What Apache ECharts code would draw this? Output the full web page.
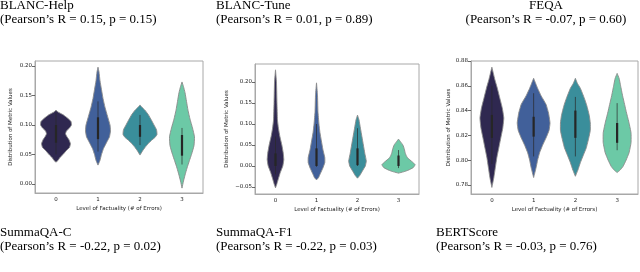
<!DOCTYPE html>
<html>
<head>
<meta charset="utf-8">
<script src="https://cdn.jsdelivr.net/npm/echarts@6/dist/echarts.min.js"></script>
<style>html,body{margin:0;padding:0;background:#fff}#c{width:640px;height:272px}</style>
</head>
<body>
<div id="c"></div>
<script>
// ---- categories / labels ----
const categories = ['0', '1', '2', '3'];
const xAxisTitle = 'Level of Factuality (# of Errors)';
const yAxisTitle = 'Distribution of Metric Values';

const topTitles = [
  ['BLANC-Help', '(Pearson’s R = 0.15, p = 0.15)'],
  ['BLANC-Tune', '(Pearson’s R = 0.01, p = 0.89)'],
  ['FEQA', '(Pearson’s R = -0.07, p = 0.60)']
];
const bottomTitles = [
  ['SummaQA-C', '(Pearson’s R = -0.22, p = 0.02)'],
  ['SummaQA-F1', '(Pearson’s R = -0.22, p = 0.03)'],
  ['BERTScore', '(Pearson’s R = -0.03, p = 0.76)']
];

// ---- y tick values per panel ----
const ticks1 = [0.00, 0.05, 0.10, 0.15, 0.20];
const ticks2 = [-0.05, 0.00, 0.05, 0.10, 0.15, 0.20];
const ticks3 = [0.78, 0.80, 0.82, 0.84, 0.86, 0.88];

// ---- violin profiles: [metric value, density (relative half width)] ----
const help0 = [[0.125,0],[0.122,2],[0.117,7.5],[0.111,12],[0.106,15],[0.1,15.5],[0.095,13.5],[0.09,10.5],[0.085,9.5],[0.08,11],[0.075,13],[0.068,14.5],[0.062,13.5],[0.056,10],[0.05,7],[0.045,4],[0.04,2],[0.037,0]];
const help1 = [[0.198,0],[0.19,1],[0.175,2],[0.16,3.5],[0.145,5],[0.13,7],[0.115,9.5],[0.1,12],[0.09,12.5],[0.08,11.5],[0.07,8.5],[0.06,5.5],[0.05,3.5],[0.04,2],[0.032,0]];
const help2 = [[0.134,0],[0.13,2],[0.125,5],[0.117,8.5],[0.108,11.5],[0.1,14],[0.092,16.5],[0.084,17],[0.079,15],[0.074,11.5],[0.068,8],[0.062,5],[0.056,2.5],[0.049,0]];
const help3 = [[0.173,0],[0.165,1.5],[0.155,3],[0.14,4.5],[0.125,6],[0.11,8],[0.095,10.5],[0.08,12.5],[0.065,12],[0.05,9.5],[0.04,7.5],[0.027,5],[0.015,3],[0.005,1.5],[-0.007,0]];

const tune0 = [[0.229,0],[0.2,1],[0.15,1.5],[0.11,2],[0.09,3],[0.07,4.5],[0.05,6.5],[0.03,8],[0.015,8.5],[0.0,7.5],[-0.015,5],[-0.03,3],[-0.042,1.5],[-0.052,0]];
const tune1 = [[0.198,0],[0.17,1],[0.13,1.5],[0.1,2.5],[0.08,3.5],[0.06,5],[0.04,6.5],[0.02,8.5],[0.008,8.5],[-0.005,6.5],[-0.018,4],[-0.028,2],[-0.033,0]];
const tune2 = [[0.121,0],[0.11,1.5],[0.09,3],[0.07,4.5],[0.05,6],[0.03,7.5],[0.012,9],[0.0,8],[-0.012,5],[-0.022,2.5],[-0.029,0]];
const tune3 = [[0.064,0],[0.058,2],[0.05,4.5],[0.04,6],[0.03,7],[0.02,9],[0.01,14],[0.003,17],[-0.004,15],[-0.01,10],[-0.014,5],[-0.017,0]];

const feqa0 = [[0.875,0],[0.87,1.5],[0.865,3],[0.858,5.5],[0.85,8],[0.842,10.5],[0.834,12],[0.826,11],[0.818,9],[0.81,7],[0.802,5],[0.794,3.5],[0.786,2],[0.778,0]];
const feqa1 = [[0.866,0],[0.862,2],[0.858,4],[0.852,7.5],[0.845,12.5],[0.838,15],[0.83,16.5],[0.824,15.5],[0.818,12.5],[0.812,9],[0.806,6],[0.8,4],[0.794,2.5],[0.786,0]];
const feqa2 = [[0.866,0],[0.862,2],[0.858,5],[0.85,9],[0.844,11.5],[0.836,14],[0.83,15],[0.824,15],[0.818,13.5],[0.81,11],[0.804,8],[0.798,5],[0.792,2.5],[0.787,0]];
const feqa3 = [[0.87,0],[0.866,2],[0.86,3.5],[0.852,5.5],[0.845,7.5],[0.838,9.5],[0.83,12],[0.822,14],[0.814,14],[0.806,12],[0.8,9],[0.795,6],[0.792,3],[0.79,0]];

// ---- inner box stats: [whisker low, q1, median, q3, whisker high] ----
const helpBox = [[0.05,0.07,0.085,0.1,0.12],[0.055,0.076,0.092,0.113,0.14],[0.066,0.08,0.09,0.1,0.117],[0.033,0.048,0.065,0.083,0.095]];
const tuneBox = [[-0.02,0.0,0.015,0.03,0.07],[-0.002,0.0,0.015,0.042,0.1],[0.0,0.002,0.012,0.042,0.09],[-0.005,0.0,0.008,0.025,0.038]];
const feqaBox = [[0.797,0.818,0.826,0.8365,0.86],[0.803,0.819,0.827,0.835,0.854],[0.803,0.818,0.83,0.84,0.851],[0.808,0.814,0.822,0.83,0.846]];

const panels = [
  {profiles: [help0, help1, help2, help3], boxes: helpBox, ticks: ticks1, min: -0.0153, max: 0.2085},
  {profiles: [tune0, tune1, tune2, tune3], boxes: tuneBox, ticks: ticks2, min: -0.0667, max: 0.2429},
  {profiles: [feqa0, feqa1, feqa2, feqa3], boxes: feqaBox, ticks: ticks3, min: 0.7727, max: 0.8800}
];

// ---- styling ----
const colors = ['#2f2850', '#41609a', '#3a8e9b', '#6cc9a6'];
const grids = [
  {left: 35, top: 61, width: 168, height: 132},
  {left: 255, top: 64, width: 164, height: 130},
  {left: 471, top: 61, width: 167, height: 133}
];
const yNameGaps = [21, 25, 19];
const DENSITY_TO_BAND = 1 / 42; // density unit → fraction of category band
const tickFont = {fontFamily: 'DejaVu Sans', fontSize: 5.5, color: '#222'};
const fmt = v => (v < 0 ? '\u2212' : '') + Math.abs(v).toFixed(2);

function makeRender(panel) {
  return function (params, api) {
    const idx = api.value(0);
    const prof = panel.profiles[idx];
    const band = api.size([1, 0])[0];
    const cx = api.coord([idx, prof[0][0]])[0];
    const right = prof.map(p => [cx + p[1] * DENSITY_TO_BAND * band, api.coord([idx, p[0]])[1]]);
    const left = prof.slice().reverse().map(p => [cx - p[1] * DENSITY_TO_BAND * band, api.coord([idx, p[0]])[1]]);
    const b = panel.boxes[idx];
    const yLo = api.coord([idx, b[0]])[1], yQ1 = api.coord([idx, b[1]])[1];
    const yQ3 = api.coord([idx, b[3]])[1], yHi = api.coord([idx, b[4]])[1];
    return {
      type: 'group',
      children: [
        {type: 'polygon', shape: {points: right.concat(left), smooth: 0.12},
         style: {fill: colors[idx], stroke: '#8a8a8a', lineWidth: 0.9}},
        {type: 'line', shape: {x1: cx, y1: yLo, x2: cx, y2: yHi},
         style: {stroke: '#2a2a2a', lineWidth: 0.7}},
        {type: 'rect', shape: {x: cx - 1.1, y: yQ3, width: 2.2, height: yQ1 - yQ3},
         style: {fill: '#262626'}}
      ]
    };
  };
}

const option = {
  animation: false,
  grid: grids.map(g => Object.assign({show: true, borderColor: '#a8a8a8', borderWidth: 1, containLabel: false}, g)),
  xAxis: grids.map((g, i) => ({
    type: 'category', gridIndex: i, data: categories,
    name: xAxisTitle, nameLocation: 'middle', nameGap: 13,
    nameTextStyle: {fontFamily: 'DejaVu Sans', fontSize: 5.5, color: '#222'},
    axisLine: {onZero: false, lineStyle: {color: '#a8a8a8', width: 1}},
    axisTick: {alignWithLabel: true, length: 3, lineStyle: {color: '#444', width: 0.8}},
    axisLabel: Object.assign({margin: 4}, tickFont),
    splitLine: {show: false}
  })),
  yAxis: panels.map((p, i) => ({
    type: 'value', gridIndex: i, min: p.min, max: p.max,
    name: yAxisTitle, nameLocation: 'middle', nameRotate: 90, nameGap: yNameGaps[i],
    nameTextStyle: {fontFamily: 'DejaVu Sans', fontSize: 5.5, color: '#222'},
    axisLine: {show: true, onZero: false, lineStyle: {color: '#a8a8a8', width: 1}},
    axisTick: {show: true, length: 3, customValues: p.ticks, lineStyle: {color: '#444', width: 0.8}},
    axisLabel: Object.assign({margin: 3, customValues: p.ticks, formatter: fmt, showMinLabel: true, showMaxLabel: true}, tickFont),
    splitLine: {show: false}
  })),
  series: panels.map((p, i) => ({
    type: 'custom', xAxisIndex: i, yAxisIndex: i,
    data: categories.map((c, k) => [k]),
    renderItem: makeRender(p),
    clip: false
  })),
  graphic: [
    {type: 'text', left: 0, top: -2, style: {text: topTitles[0][0] + '\n' + topTitles[0][1], font: '13px "Liberation Serif"', fill: '#000', lineHeight: 14.5}},
    {type: 'text', left: 216, top: -2, style: {text: topTitles[1][0] + '\n' + topTitles[1][1], font: '13px "Liberation Serif"', fill: '#000', lineHeight: 14.5}},
    {type: 'text', x: 546, y: -2, style: {text: topTitles[2][0] + '\n' + topTitles[2][1], font: '13px "Liberation Serif"', fill: '#000', lineHeight: 14.5, align: 'center'}},
    {type: 'text', left: 0, top: 225, style: {text: bottomTitles[0][0] + '\n' + bottomTitles[0][1], font: '13px "Liberation Serif"', fill: '#000', lineHeight: 14.5}},
    {type: 'text', left: 216, top: 225, style: {text: bottomTitles[1][0] + '\n' + bottomTitles[1][1], font: '13px "Liberation Serif"', fill: '#000', lineHeight: 14.5}},
    {type: 'text', left: 436, top: 225, style: {text: bottomTitles[2][0] + '\n' + bottomTitles[2][1], font: '13px "Liberation Serif"', fill: '#000', lineHeight: 14.5}}
  ]
};

const chart = echarts.init(document.getElementById('c'), null, {renderer: 'canvas'});
chart.setOption(option);
</script>
</body>
</html>
